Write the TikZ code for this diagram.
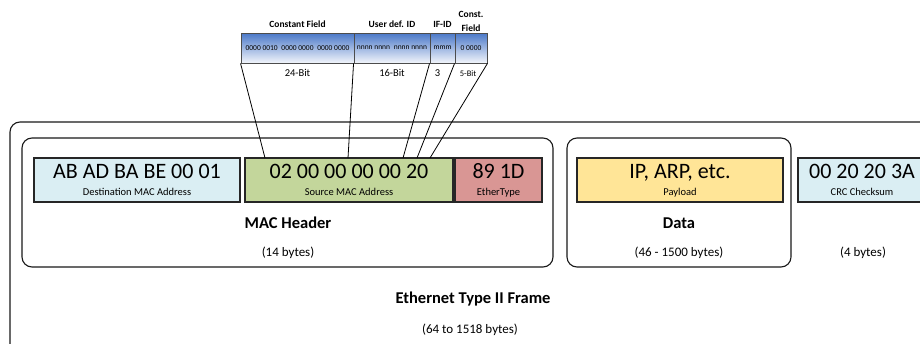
\documentclass[tikz,border=0pt]{standalone}
\usepackage{fontspec}
\setmainfont{Carlito}
\usetikzlibrary{positioning}
\definecolor{destblue}{HTML}{DAEEF3}
\definecolor{srcgreen}{HTML}{C3D69B}
\definecolor{typered}{HTML}{D99694}
\definecolor{loadgold}{HTML}{FFE597}
\definecolor{bitblue}{HTML}{4A78C8}
\definecolor{bitpale}{HTML}{F2F5FB}
\begin{document}
\begin{tikzpicture}[x=1pt,y=-1pt]
\tikzstyle{field}=[draw=black!85, line width=1.2pt, minimum height=44pt, inner sep=0pt,
	text height=14pt, text depth=18pt, font=\fontsize{22}{24}\selectfont]
\tikzstyle{subtxt}=[anchor=base, yshift=7pt, inner sep=0pt, font=\fontsize{10.5}{12}\selectfont]
\tikzstyle{group}=[draw=black!90, line width=1.1pt, rounded corners=10pt, inner sep=0pt]
\tikzstyle{title}=[font=\fontsize{16.5}{18}\selectfont\bfseries]
\tikzstyle{bytes}=[font=\fontsize{13}{15}\selectfont]
\tikzstyle{bitcell}=[draw=black!70, line width=0.9pt, minimum height=30pt, inner sep=0pt,
	top color=bitblue, bottom color=bitpale, font=\fontsize{7.5}{9}\selectfont]
\tikzstyle{bithead}=[inner sep=0pt, font=\fontsize{9.5}{14}\selectfont\bfseries]
\tikzstyle{bitlen}=[inner sep=0pt, font=\fontsize{10.5}{12}\selectfont]
\tikzstyle{tie}=[line width=0.8pt]
\clip (0,0) rectangle (920,343);

% frame and groups
\node[group, minimum width=960pt, minimum height=260pt] (frame) at (490,252) {};
\node[group, minimum width=531pt, minimum height=129pt] (machdr) at (287.5,202.5) {};
\node[group, minimum width=224pt, minimum height=129pt] (datagrp) at (679,202.5) {};

% fields
\node[field, fill=destblue, minimum width=206pt,
	label={[subtxt]south:Destination MAC Address}] (dest) at (137,180) {AB AD BA BE 00 01};
\node[field, fill=srcgreen, minimum width=208pt,
	label={[subtxt]south:Source MAC Address}] (src) at (349,180) {02 00 00 00 00 20};
\node[field, fill=typered, minimum width=87pt,
	label={[subtxt]south:EtherType}] (ethtype) at (498.5,180) {89 1D};
\node[field, fill=loadgold, minimum width=206pt,
	label={[subtxt]south:Payload}] (payload) at (680,180) {IP, ARP, etc.};
\node[field, fill=destblue, minimum width=128pt,
	label={[subtxt]south:CRC Checksum}] (crc) at (862,180) {00 20 20 3A};

% group texts
\node[title] (machdrname) at (288,223) {MAC Header};
\node[bytes] (machdrsize) at (288,253) {(14 bytes)};
\node[title] (dataname) at (679,223) {Data};
\node[bytes] (datasize) at (679,253) {(46 - 1500 bytes)};
\node[bytes] (crcsize) at (863,253) {(4 bytes)};
\node[title] (framename) at (473,299) {Ethernet Type II Frame};
\node[bytes] (framesize) at (470,330) {(64 to 1518 bytes)};

% bit layout of the source address
\node[bitcell, minimum width=113pt] (constA) at (297.5,48) {0000 0010\enspace 0000 0000\enspace 0000 0000};
\node[bitcell, minimum width=76pt] (userid) at (392,48) {nnnn nnnn\enspace nnnn nnnn};
\node[bitcell, minimum width=25pt] (ifid) at (442.5,48) {mmm};
\node[bitcell, minimum width=32pt] (constB) at (471,48) {0 0000};

\node[bithead, above=5pt of constA] (constAhead) {Constant Field};
\node[bithead, above=5pt of userid] (useridhead) {User def. ID};
\node[bithead, above=5pt of ifid] (ifidhead) {IF-ID};
\node[bithead, align=center, above=1pt of constB] (constBhead) {Const.\\Field};

\node[bitlen, below=6pt of constA] (constAlen) {24-Bit};
\node[bitlen, below=6pt of userid] (useridlen) {16-Bit};
\node[bitlen, below=6pt of ifid, xshift=-5pt] (ifidlen) {3};
\node[bitlen, below=7pt of constB, xshift=-3pt, font=\fontsize{8.5}{10}\selectfont] (constBlen) {5-Bit};

\coordinate (s1) at (265,158);
\coordinate (s2) at (348,158);
\coordinate (s3) at (403,158);
\coordinate (s4) at (417,158);
\coordinate (s5) at (430,158);
\draw[tie] (constA.south west) -- (s1);
\draw[tie] (userid.south west) -- (s2);
\draw[tie] (ifid.south west) -- (s3);
\draw[tie] (constB.south west) -- (s4);
\draw[tie] (constB.south east) -- (s5);

\end{tikzpicture}
\end{document}
